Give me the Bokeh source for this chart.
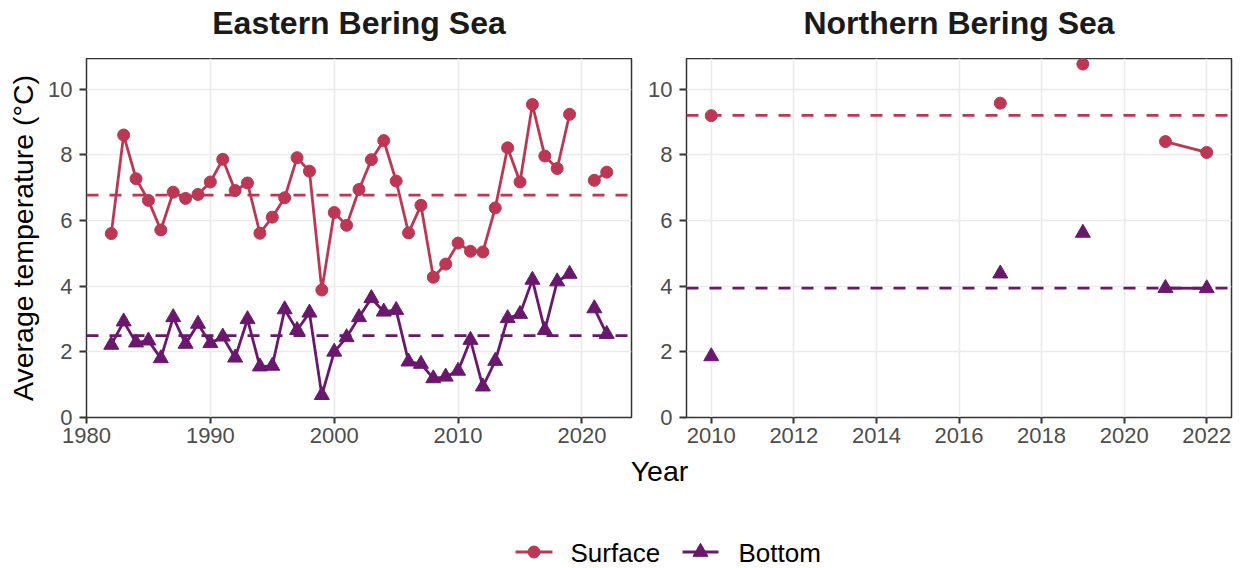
import numpy as np
from bokeh.plotting import figure
from bokeh.models import Range1d, FixedTicker, Span
from bokeh.layouts import column, row
from bokeh.embed import file_html
from bokeh.resources import INLINE

# ---------------- data ----------------
ebs_years = list(range(1982, 2023))
ebs_surface = [5.60, 8.60, 7.27, 6.61, 5.71, 6.86, 6.67, 6.79, 7.17, 7.86,
               6.91, 7.14, 5.61, 6.10, 6.69, 7.91, 7.50, 3.88, 6.24, 5.85,
               6.94, 7.85, 8.43, 7.20, 5.62, 6.46, 4.27, 4.67, 5.31, 5.06,
               5.04, 6.38, 8.21, 7.17, 9.53, 7.96, 7.58, 9.23, None, 7.22, 7.47]
ebs_bottom = [2.21, 2.92, 2.28, 2.34, 1.80, 3.05, 2.24, 2.85, 2.26, 2.46,
              1.82, 2.99, 1.55, 1.57, 3.29, 2.66, 3.19, 0.68, 2.00, 2.44,
              3.05, 3.63, 3.22, 3.27, 1.70, 1.63, 1.19, 1.24, 1.42, 2.36,
              0.94, 1.72, 3.02, 3.15, 4.19, 2.66, 4.14, 4.37, None, 3.32, 2.54]
ebs_surface_mean = 6.77
ebs_bottom_mean = 2.49

nbs_years = [2010, 2017, 2019, 2021, 2022]
nbs_surface = [9.19, 9.57, 10.76, 8.40, 8.07]
nbs_bottom = [1.86, 4.38, 5.62, 3.94, 3.93]
nbs_surface_mean = 9.20
nbs_bottom_mean = 3.94

ebs_xticks = [1980, 1990, 2000, 2010, 2020]
nbs_xticks = [2010, 2012, 2014, 2016, 2018, 2020, 2022]
yticks = [0, 2, 4, 6, 8, 10]

panel_titles = ["Eastern Bering Sea", "Northern Bering Sea"]
series_labels = ["Surface", "Bottom"]
SURF_COL = "#BC3754"
BOT_COL = "#6A176E"
FONT = "Liberation Sans"

PAGE_W, PAGE_H = 1239, 568
FRAME_W, FRAME_H = 545, 359
TOP_H = 58
PANEL_BOTTOM = 36


def to_arr(vals):
    return np.array([np.nan if v is None else v for v in vals], dtype=float)


def line_breaks(years, vals):
    """Insert NaN between non-consecutive years so the line only joins adjacent years."""
    xs, ys = [], []
    for i, (yr, v) in enumerate(zip(years, vals)):
        if i > 0 and yr - years[i - 1] > 1:
            xs.append(np.nan)
            ys.append(np.nan)
        xs.append(yr)
        ys.append(np.nan if v is None else v)
    return np.array(xs, dtype=float), np.array(ys, dtype=float)


def strip(top, h):
    """A blank figure whose data coordinates equal page pixels."""
    s = figure(frame_width=PAGE_W, frame_height=h,
               x_range=Range1d(0, PAGE_W), y_range=Range1d(top + h, top),
               x_axis_location=None, y_axis_location=None,
               min_border=0, output_backend="svg", toolbar_location=None)
    s.grid.visible = False
    s.outline_line_color = None
    s.background_fill_color = "white"
    s.border_fill_color = "white"
    return s


def make_panel(xr, xticks, min_left, min_right, ylabel=None):
    p = figure(frame_width=FRAME_W, frame_height=FRAME_H,
               x_range=Range1d(*xr), y_range=Range1d(0, 10.93),
               output_backend="svg", toolbar_location=None,
               min_border_left=min_left, min_border_right=min_right,
               min_border_top=0, min_border_bottom=PANEL_BOTTOM)
    p.xaxis.ticker = FixedTicker(ticks=xticks)
    p.yaxis.ticker = FixedTicker(ticks=yticks)
    for ax in (p.xaxis, p.yaxis):
        ax.axis_line_color = None
        ax.major_tick_line_color = "#333333"
        ax.major_tick_line_width = 2
        ax.major_tick_in = 0
        ax.minor_tick_line_color = None
        ax.major_label_text_font = FONT
        ax.major_label_text_font_size = "22px"
        ax.major_label_text_color = "#4D4D4D"
    p.xaxis.major_tick_out = 6
    p.xaxis.major_label_standoff = 4
    p.yaxis.major_tick_out = 7
    p.yaxis.major_label_standoff = 7
    if ylabel:
        p.yaxis.axis_label = ylabel
        p.yaxis.axis_label_text_font = FONT
        p.yaxis.axis_label_text_font_size = "28.5px"
        p.yaxis.axis_label_text_font_style = "normal"
        p.yaxis.axis_label_text_color = "#000000"
        p.yaxis.axis_label_standoff = 6

    p.grid.grid_line_color = "#EBEBEB"
    p.grid.grid_line_width = 1.6
    p.grid.minor_grid_line_color = None
    p.outline_line_color = "#333333"
    p.outline_line_width = 1.5
    p.background_fill_color = "white"
    p.border_fill_color = "white"
    return p


def add_series(p, years, surface, bottom, s_mean, b_mean):
    for m, col in ((s_mean, SURF_COL), (b_mean, BOT_COL)):
        p.add_layout(Span(location=m, dimension="width", line_color=col,
                          line_width=2.8, line_dash="12 11", level="underlay"))
    sx, sy = line_breaks(years, surface)
    bx, by = line_breaks(years, bottom)
    p.line(sx, sy, line_color=SURF_COL, line_width=2.8)
    p.line(bx, by, line_color=BOT_COL, line_width=2.8)
    p.scatter(np.array(years, float), to_arr(surface), marker="circle", size=12,
              fill_color=SURF_COL, line_color=SURF_COL)
    p.scatter(np.array(years, float), to_arr(bottom), marker="triangle", size=15,
              fill_color=BOT_COL, line_color=BOT_COL)


# ---------------- panels ----------------
p1 = make_panel((1980, 2024), ebs_xticks, 86, 10, ylabel="Average temperature (°C)")
add_series(p1, ebs_years, ebs_surface, ebs_bottom, ebs_surface_mean, ebs_bottom_mean)

p2 = make_panel((2009.4, 2022.6), nbs_xticks, 45, 8)
add_series(p2, nbs_years, nbs_surface, nbs_bottom, nbs_surface_mean, nbs_bottom_mean)

# ---------------- top strip: panel titles ----------------
t = strip(0, TOP_H)
title_x = [86 + FRAME_W / 2, 686 + FRAME_W / 2]
t.text(x=title_x, y=[22.5, 22.5], text=panel_titles, text_align="center",
       text_baseline="middle", text_font_size="32px", text_font_style="bold",
       text_font={"value": FONT}, text_color="#1A1A1A")

# ---------------- bottom strip: shared x title + legend ----------------
BOT_TOP = TOP_H + FRAME_H + PANEL_BOTTOM
BOT_H = PAGE_H - BOT_TOP
b = strip(BOT_TOP, BOT_H)
b.text(x=[659], y=[470], text=["Year"], text_align="center",
       text_baseline="middle", text_font_size="28.5px",
       text_font={"value": FONT}, text_color="#000000")

# legend keys (layout positions, not data)
key_x0 = [515, 682]
key_x1 = [552, 718]
key_y = 551.5
key_text_x = [570, 738]
b.segment(x0=[key_x0[0]], y0=[key_y], x1=[key_x1[0]], y1=[key_y],
          line_color=SURF_COL, line_width=2.8)
b.segment(x0=[key_x0[1]], y0=[key_y], x1=[key_x1[1]], y1=[key_y],
          line_color=BOT_COL, line_width=2.8)
b.scatter(x=[(key_x0[0] + key_x1[0]) / 2], y=[key_y], marker="circle", size=12,
          fill_color=SURF_COL, line_color=SURF_COL)
b.scatter(x=[(key_x0[1] + key_x1[1]) / 2], y=[key_y], marker="triangle", size=15,
          fill_color=BOT_COL, line_color=BOT_COL)
b.text(x=key_text_x, y=[552, 552], text=series_labels, text_align="left",
       text_baseline="middle", text_font_size="26px",
       text_font={"value": FONT}, text_color="#000000")

layout = column(t, row(p1, p2), b)
open("out.html", "w").write(file_html(layout, INLINE))
